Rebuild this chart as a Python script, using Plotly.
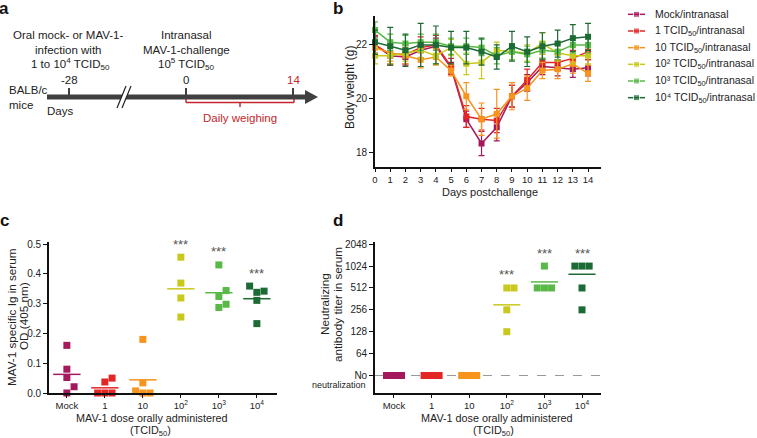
import numpy as np
import plotly.graph_objects as go

W, H = 757, 438
FONT = "Liberation Sans, Arial, sans-serif"
INK = "#222222"
RED = "#c1272d"
GREY = "#404040"

# ── data ────────────────────────────────────────────────────────────────
days = list(range(15))

group_ticks = ["Mock", "1", "10", "10<sup>2</sup>", "10<sup>3</sup>", "10<sup>4</sup>"]
legend_names = ["Mock/intranasal",
                "1 TCID<sub>50</sub>/intranasal",
                "10 TCID<sub>50</sub>/intranasal",
                "10² TCID<sub>50</sub>/intranasal",
                "10³ TCID<sub>50</sub>/intranasal",
                "10⁴ TCID<sub>50</sub>/intranasal"]
colors = ["#a3195b", "#e42526", "#f7941d", "#c8c81e", "#58b947", "#1c6a34"]

# body weight (g), mean and SD per day
bw_mock = [22.0, 21.6, 21.55, 21.8, 21.95, 21.15, 19.25, 18.35, 18.95, 20.1, 20.6, 21.2, 21.15, 21.1, 21.15]
bw_1 = [22.0, 21.65, 21.65, 21.9, 22.0, 21.2, 19.35, 19.25, 19.2, 20.1, 20.7, 21.35, 21.35, 21.5, 21.75]
bw_10 = [21.9, 21.7, 21.6, 21.45, 21.55, 21.05, 20.1, 19.25, 19.45, 20.1, 20.4, 21.05, 21.1, 21.3, 20.95]
bw_100 = [21.6, 21.6, 21.7, 21.8, 21.6, 21.9, 21.3, 21.35, 21.8, 21.75, 21.7, 22.05, 21.7, 21.6, 21.6]
bw_1000 = [22.55, 22.1, 22.05, 22.1, 22.1, 21.95, 21.95, 21.9, 21.6, 21.75, 21.65, 21.8, 21.75, 22.0, 22.0]
bw_10000 = [22.1, 21.95, 21.8, 22.0, 22.0, 21.9, 21.9, 21.75, 21.55, 21.95, 21.75, 21.95, 22.05, 22.25, 22.3]

sd_mock = [0.3, 0.3, 0.3, 0.3, 0.3, 0.2, 0.3, 0.45, 0.5, 0.4, 0.3, 0.3, 0.3, 0.3, 0.3]
sd_1 = [0.35, 0.4, 0.35, 0.4, 0.35, 0.3, 0.4, 0.4, 0.45, 0.4, 0.4, 0.3, 0.3, 0.3, 0.3]
sd_10 = [0.3, 0.3, 0.3, 0.3, 0.3, 0.2, 0.5, 0.6, 0.9, 0.5, 0.45, 0.3, 0.35, 0.35, 0.3]
sd_100 = [0.3, 0.3, 0.3, 0.3, 0.3, 0.3, 0.4, 0.6, 0.3, 0.3, 0.3, 0.4, 0.3, 0.3, 0.3]
sd_1000 = [0.3, 0.3, 0.3, 0.3, 0.3, 0.3, 0.3, 0.3, 0.3, 0.3, 0.3, 0.3, 0.3, 0.3, 0.3]
sd_10000 = [0.45, 0.7, 0.6, 0.8, 0.7, 0.6, 0.6, 0.5, 0.45, 0.55, 0.55, 0.5, 0.5, 0.5, 0.5]

bw_means = [bw_mock, bw_1, bw_10, bw_100, bw_1000, bw_10000]
bw_sds = [sd_mock, sd_1, sd_10, sd_100, sd_1000, sd_10000]

# MAV-1 specific Ig, OD 405 nm
od_mock = [0.16, 0.08, 0.052, 0.021, 0.0]
od_1 = [0.05, 0.037, 0.0, 0.0, 0.0]
od_10 = [0.18, 0.034, 0.007, 0.0, 0.0]
od_100 = [0.456, 0.369, 0.319, 0.255]
od_1000 = [0.43, 0.344, 0.324, 0.298, 0.287]
od_10000 = [0.359, 0.342, 0.338, 0.311, 0.233]
od_values = [od_mock, od_1, od_10, od_100, od_1000, od_10000]

# neutralizing titer, 0 = no neutralization
nt_mock = [0, 0, 0, 0, 0]
nt_1 = [0, 0, 0, 0, 0]
nt_10 = [0, 0, 0, 0, 0]
nt_100 = [512, 512, 256, 128]
nt_1000 = [1024, 512, 512, 512]
nt_10000 = [1024, 1024, 1024, 512, 256]
nt_values = [nt_mock, nt_1, nt_10, nt_100, nt_1000, nt_10000]
nt_means = [None, None, None, 300, 620, 790]
titer_ticks = [64, 128, 256, 512, 1024, 2048]

signif = ["", "", "", "***", "***", "***"]


# ── helpers ──────────────────────────────────────────────────────────────
def px(x):
    return x / W


def py(y):
    return 1 - y / H


def txt(x, y, s, size=11.5, color=INK, xanchor="center", angle=0):
    return dict(x=px(x), y=py(y), xref="paper", yref="paper", text=s,
                showarrow=False, xanchor=xanchor, yanchor="middle",
                textangle=angle, font=dict(size=size, color=color, family=FONT))


def seg(x0, y0, x1, y1, color=GREY, width=2):
    return dict(type="line", xref="paper", yref="paper",
                x0=px(x0), y0=py(y0), x1=px(x1), y1=py(y1),
                line=dict(color=color, width=width))


def poly(points, fill):
    d = "M " + " L ".join(f"{px(a):.5f},{py(b):.5f}" for a, b in points) + " Z"
    return dict(type="path", xref="paper", yref="paper", path=d,
                fillcolor=fill, line=dict(width=0))


def swarm(vals, tol, step, cap):
    """simple column scatter: spread points that would overlap"""
    vals = np.asarray(vals, dtype=float)
    offs = np.zeros(len(vals))
    placed = []
    for i in np.argsort(vals, kind="stable"):
        taken = {o for v, o in placed if abs(v - vals[i]) < tol}
        k = next(c for c in (0, 1, -1, 2, -2, 3, -3) if c not in taken)
        offs[i] = k
        placed.append((vals[i], k))
    offs = offs * step
    m = np.abs(offs).max()
    if m > cap:
        offs *= cap / m
    return offs


fig = go.Figure()
shapes = []
annotations = []

# ── b: body weight ───────────────────────────────────────────────────────
for k, (name, col, m, s) in enumerate(zip(legend_names, colors, bw_means, bw_sds)):
    fig.add_trace(go.Scatter(
        x=days, y=m, name=name, mode="lines+markers", cliponaxis=False,
        line=dict(color=col, width=1.5),
        marker=dict(symbol="square", size=6, color=col),
        error_y=dict(type="data", array=s, color=col, thickness=1.2, width=3),
        xaxis="x", yaxis="y"))
    # legend row on its own small axis (x: sample length, y: row index)
    fig.add_trace(go.Scatter(
        x=[0, 8.5, 17], y=[k, k, k], mode="lines+markers", cliponaxis=False,
        line=dict(color=col, width=1.5),
        marker=dict(symbol="square", size=[0, 6, 0], color=col),
        xaxis="x4", yaxis="y4"))
    annotations.append(dict(x=25, y=k, xref="x4", yref="y4", text=name,
                            showarrow=False, xanchor="left", yanchor="middle",
                            font=dict(size=10.5, color=INK, family=FONT)))

# ── c: OD ────────────────────────────────────────────────────────────────
for i, (vals, col) in enumerate(zip(od_values, colors)):
    off = swarm(vals, tol=0.0235, step=0.19, cap=0.2)
    fig.add_trace(go.Scatter(
        x=i + off, y=vals, mode="markers", cliponaxis=False,
        marker=dict(symbol="square", size=7, color=col),
        xaxis="x2", yaxis="y2"))
    mean = float(np.mean(vals))
    shapes.append(dict(type="line", xref="x2", yref="y2", x0=i - 0.36, x1=i + 0.36,
                       y0=mean, y1=mean, line=dict(color=col, width=1.5)))
    if signif[i]:
        annotations.append(dict(x=i, y=max(vals), xref="x2", yref="y2", text=signif[i],
                                showarrow=False, yanchor="middle", yshift=13,
                                font=dict(size=13, color="#555", family=FONT)))

# ── d: neutralizing titer ────────────────────────────────────────────────
NO_LEVEL = 5  # log2 position of "No neutralization"
shapes.append(dict(type="line", xref="x3 domain", yref="y3", x0=0, x1=1,
                   y0=NO_LEVEL, y1=NO_LEVEL, layer="below",
                   line=dict(color="#999", width=1, dash="dash")))
for i, (vals, col) in enumerate(zip(nt_values, colors)):
    lv = [np.log2(v) if v > 0 else NO_LEVEL for v in vals]
    off = swarm(lv, tol=0.32, step=0.19, cap=0.2)
    fig.add_trace(go.Scatter(
        x=i + off, y=lv, mode="markers", cliponaxis=False,
        marker=dict(symbol="square", size=7, color=col),
        xaxis="x3", yaxis="y3"))
    if nt_means[i] is not None:
        mv = float(np.log2(nt_means[i]))
        shapes.append(dict(type="line", xref="x3", yref="y3", x0=i - 0.36, x1=i + 0.36,
                           y0=mv, y1=mv, line=dict(color=col, width=1.5)))
    if signif[i]:
        annotations.append(dict(x=i, y=max(lv), xref="x3", yref="y3", text=signif[i],
                                showarrow=False, yanchor="middle", yshift=13,
                                font=dict(size=13, color="#555", family=FONT)))

# ── a: schematic ─────────────────────────────────────────────────────────
shapes += [
    seg(47, 97, 308, 97, GREY, 5),
    poly([(305, 90), (318, 97), (305, 104)], GREY),
    seg(69, 88, 69, 97), seg(186, 88, 186, 97), seg(293, 88, 293, 97),
    poly([(117, 108), (126, 86), (131, 86), (122, 108)], "white"),
    seg(117, 108, 126, 86, INK, 1.2), seg(122, 108, 131, 86, INK, 1.2),
    seg(186, 102.5, 294, 102.5, RED, 1.5),
    seg(186, 99, 186, 102.5, RED, 1.5), seg(294, 99, 294, 102.5, RED, 1.5),
    seg(240, 102.5, 240, 107, RED, 1.5),
]
annotations += [
    txt(68, 35, "Oral mock- or MAV-1-"),
    txt(68, 50, "infection with"),
    txt(70, 64, "1 to 10<sup>4</sup> TCID<sub>50</sub>"),
    txt(186, 35, "Intranasal"),
    txt(186, 50, "MAV-1-challenge"),
    txt(186, 64, "10<sup>5</sup> TCID<sub>50</sub>"),
    txt(69, 80, "-28"), txt(186, 80, "0"), txt(293, 80, "14", color=RED),
    txt(7, 90, "BALB/c", xanchor="left"), txt(7, 105, "mice", xanchor="left"),
    txt(45, 111, "Days", xanchor="left"),
    txt(240, 118, "Daily weighing", color=RED),
]

# panel letters
for letter, x, y in [("a", 4, 8), ("b", 338, 8), ("c", 4, 220), ("d", 338, 220)]:
    annotations.append(txt(x, y, f"<b>{letter}</b>", size=17, color="#111"))

# axis titles
annotations += [
    txt(350, 88, "Body weight (g)", size=12, angle=-90),
    txt(490, 192, "Days postchallenge", size=11),
    txt(11, 318, "MAV-1 specific Ig in serum", size=11.7, angle=-90),
    txt(23, 316, "OD (405 nm)", size=11.7, angle=-90),
    txt(152, 418, "MAV-1 dose orally administered", size=10.8),
    txt(150, 431, "(TCID<sub>50</sub>)", size=10.8),
    txt(324, 304, "Neutralizing", size=11.7, angle=-90),
    txt(337, 305, "antibody titer in serum", size=11.7, angle=-90),
    txt(497, 418, "MAV-1 dose orally administered", size=10.8),
    txt(494, 431, "(TCID<sub>50</sub>)", size=10.8),
    txt(368, 385, "neutralization", size=9, xanchor="right"),
]

axis_style = dict(showline=True, linecolor="#111", linewidth=1.6, ticks="outside",
                  ticklen=4, tickwidth=1.4, tickcolor="#111", showgrid=False,
                  zeroline=False, tickfont=dict(size=10, color=INK, family=FONT))
cat_style = dict(axis_style, ticklen=3, tickfont=dict(size=9.5, color=INK, family=FONT))
hidden = dict(visible=False, showgrid=False, zeroline=False, fixedrange=True)

fig.update_layout(
    width=W, height=H, margin=dict(l=0, r=0, t=0, b=0, autoexpand=False),
    paper_bgcolor="white", plot_bgcolor="white",
    font=dict(family=FONT, color=INK),
    showlegend=False, hovermode=False,
    xaxis=dict(domain=[px(375), px(601)], range=[0, 14.85], anchor="y",
               tickvals=days, **cat_style),
    yaxis=dict(domain=[py(167), py(16)], range=[17.48, 23.07], anchor="x",
               tickvals=[18, 20, 22], **axis_style),
    xaxis2=dict(domain=[px(49), px(277)], range=[-0.47, 5.53], anchor="y2",
                tickvals=list(range(6)), ticktext=group_ticks, **cat_style),
    yaxis2=dict(domain=[py(393), py(242)], range=[0, 0.507], anchor="x2",
                tickvals=[0, 0.1, 0.2, 0.3, 0.4, 0.5], tickformat=".1f", **axis_style),
    xaxis3=dict(domain=[px(375), px(601)], range=[-0.505, 5.505], anchor="y3",
                tickvals=list(range(6)), ticktext=group_ticks, **cat_style),
    yaxis3=dict(domain=[py(393), py(242)], range=[4.2, 11.1], anchor="x3",
                tickvals=[NO_LEVEL] + [int(np.log2(t)) for t in titer_ticks],
                ticktext=["No"] + [str(t) for t in titer_ticks], **axis_style),
    # legend block: 6 rows between y=6 and y=106 px, samples from x=628
    xaxis4=dict(domain=[px(628), px(757)], range=[0, 129], anchor="y4", **hidden),
    yaxis4=dict(domain=[py(106), py(6)], range=[5.5, -0.5], anchor="x4", **hidden),
    shapes=shapes,
    annotations=annotations,
)

fig.write_html("out.html", config={"displayModeBar": False},
               post_script="document.body.style.margin='0';")
